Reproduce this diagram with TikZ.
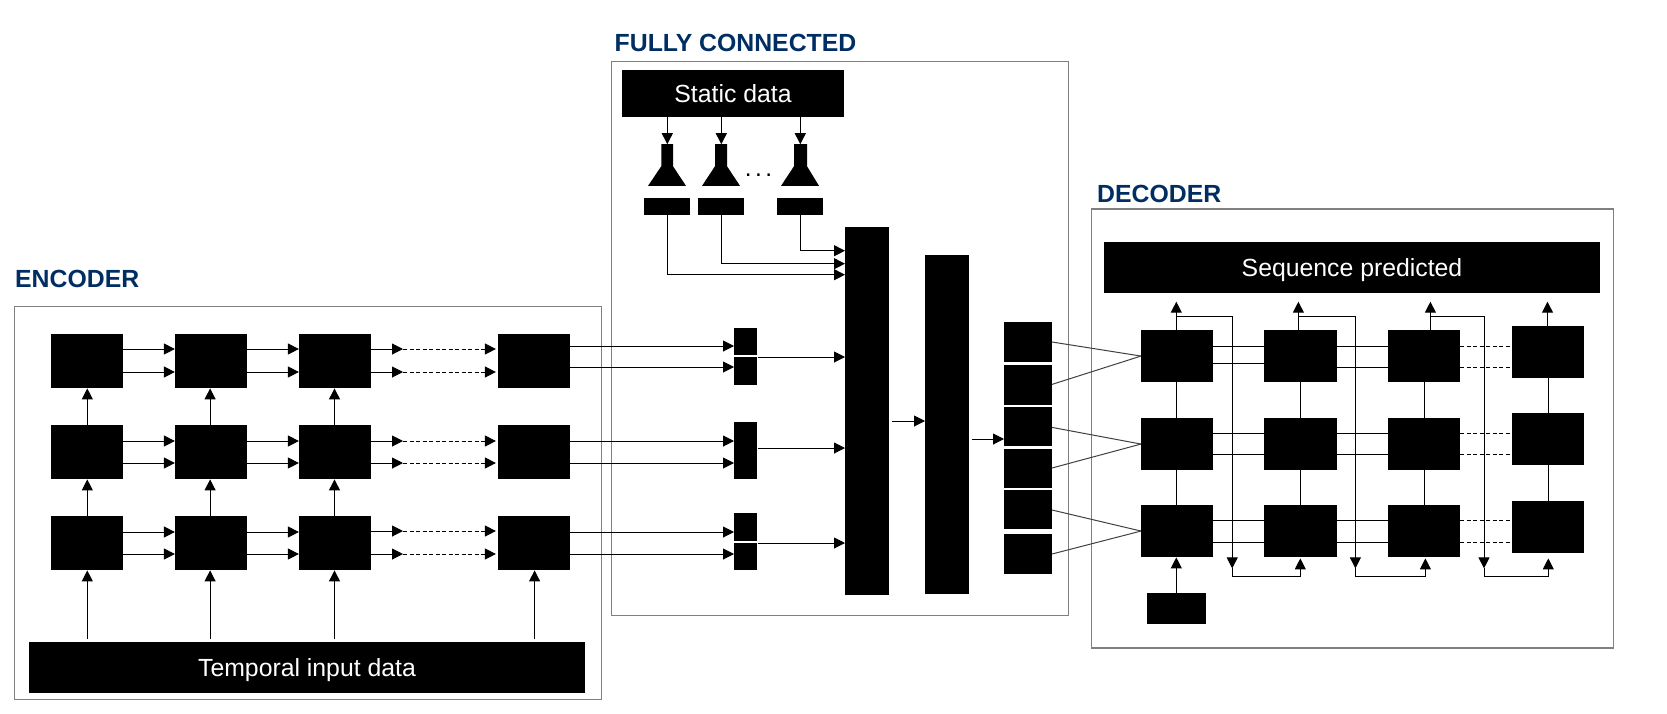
\documentclass[tikz,border=0pt]{standalone}
\usepackage{fontspec}
\setmainfont{Liberation Sans}
\usetikzlibrary{arrows.meta,calc}
\definecolor{headblue}{HTML}{002D62}
\definecolor{framegray}{HTML}{808080}
\definecolor{linkgray}{HTML}{404040}
\tikzset{
  blk/.style={fill=black,draw=none,inner sep=0pt,outer sep=0pt,text=white,align=center,font=\fontsize{24.8}{28}\selectfont},
  frame/.style={draw=framegray,line width=1.1pt,fill=none,inner sep=0pt,outer sep=0pt},
  heading/.style={text=headblue,anchor=west,inner sep=0pt,font=\fontsize{24.8}{28}\selectfont\bfseries},
  ln/.style={draw=black,line width=1pt},
  arr/.style={ln,-{Triangle[length=11pt,width=11pt]}},
  arrdash/.style={arr,dash pattern=on 4pt off 2.5pt,shorten >=2pt},
  lndash/.style={ln,dash pattern=on 4pt off 2.5pt},
  link/.style={draw=linkgray,line width=1pt},
}
\newcommand{\blkbox}[6][]{%
  \pgfmathsetmacro{\cxx}{(#3+#5)/2}\pgfmathsetmacro{\cyy}{(#4+#6)/2}%
  \pgfmathsetmacro{\wdd}{#5-#3}\pgfmathsetmacro{\htt}{#6-#4}%
  \node[blk,minimum width=\wdd pt,minimum height=\htt pt] (#2) at (\cxx,\cyy) {#1};}
\newcommand{\frm}[5]{%
  \pgfmathsetmacro{\cxx}{(#2+#4)/2}\pgfmathsetmacro{\cyy}{(#3+#5)/2}%
  \pgfmathsetmacro{\wdd}{#4-#2}\pgfmathsetmacro{\htt}{#5-#3}%
  \node[frame,minimum width=\wdd pt,minimum height=\htt pt] (#1) at (\cxx,\cyy) {};}
\newcommand{\lbl}[1]{\raisebox{-8.9pt}[0pt][0pt]{#1}}
\begin{document}
\begin{tikzpicture}[x=1pt,y=-1pt]
\useasboundingbox (0,-0.7) rectangle (1667,712.3);
% frames
\frm{encframe}{14.8}{306}{601.7}{699}
\frm{fcframe}{611.7}{61}{1068.3}{615}
\frm{decframe}{1091.3}{208.3}{1613.7}{647.3}
\node[heading] (enchead) at (15,278.4) {ENCODER};
\node[heading] (fchead) at (614.5,42.7) {FULLY CONNECTED};
\node[heading] (dechead) at (1097,193.5) {DECODER};
% encoder
\blkbox[\lbl{Temporal input data}]{tid}{29}{641}{585}{692.7}
\foreach \r/\ya/\yb in {1/333/387.7,2/424/478.7,3/515/569.7}{
  \blkbox{e\r1}{50.9}{\ya}{122.8}{\yb}
  \blkbox{e\r2}{174.9}{\ya}{246.8}{\yb}
  \blkbox{e\r3}{298.9}{\ya}{371.2}{\yb}
  \blkbox{e\r4}{497.9}{\ya}{570.2}{\yb}
}
\foreach \r/\ya/\yb/\yc in {1/348.3/371.3/348.3,2/440.3/462.3/440.3,3/531.3/553.3/530.3}{
  \draw[arr] (e\r1.east |- 0,\ya) -- (e\r2.west |- 0,\ya);
  \draw[arr] (e\r1.east |- 0,\yb) -- (e\r2.west |- 0,\yb);
  \draw[arr] (e\r2.east |- 0,\ya) -- (e\r3.west |- 0,\ya);
  \draw[arr] (e\r2.east |- 0,\yb) -- (e\r3.west |- 0,\yb);
  \coordinate (m\r a) at (403,\yc);
  \coordinate (m\r b) at (403,\yb);
  \draw[arr] (e\r3.east |- m\r a) -- (m\r a);
  \draw[arr] (e\r3.east |- m\r b) -- (m\r b);
  \draw[arrdash] (m\r a) -- (e\r4.west |- m\r a);
  \draw[arrdash] (m\r b) -- (e\r4.west |- m\r b);
}
\foreach \x/\c in {87.3/1,210.1/2,334.5/3,534.6/4}{
  \coordinate (vx\c) at (\x,0);
  \coordinate (tidtop\c) at (\x,638.3);
  \draw[arr] (tidtop\c) -- (vx\c |- e3\c.south);
}
\foreach \c in {1,2,3}{
  \draw[arr] (vx\c |- e3\c.north) -- (vx\c |- e2\c.south);
  \draw[arr] (vx\c |- e2\c.north) -- (vx\c |- e1\c.south);
}
% fully connected
\blkbox[\lbl{Static data}]{static}{622}{69.3}{844}{116.3}
\blkbox{bar1}{644}{197.3}{690}{214.3}
\blkbox{bar2}{698}{197.3}{744}{214.3}
\blkbox{bar3}{777}{197.3}{823}{214.3}
\foreach \c/\xa/\xb/\xc/\xd/\xt in {1/648/661.3/673/686/667.3,2/702/715/727/740/721.3,3/781/794/807/819/800.3}{
  \fill (\xb,143.5) -- (\xc,143.5) -- (\xc,165.5) -- (\xd,185.2) -- (\xa,185.2) -- (\xb,165.5) -- cycle;
  \coordinate (fun\c) at (\xt,143.5);
  \draw[arr] (fun\c |- static.south) -- (fun\c);
}
\node[inner sep=0pt,anchor=base,font=\fontsize{24.4}{28}\selectfont] (dots) at (758.5,176) {.\kern3.4pt.\kern3.4pt.};
\blkbox{fc1}{845}{226.5}{889}{594}
\blkbox{fc2}{925}{254.5}{969}{593}
\coordinate (t1) at (667.3,214.3);
\coordinate (t2) at (721.3,214.3);
\coordinate (t3) at (800.3,214.3);
\draw[arr] (t1) -- (t1 |- 0,274) -- (fc1.west |- 0,274);
\draw[arr] (t2) -- (t2 |- 0,263) -- (fc1.west |- 0,263);
\draw[arr] (t3) -- (t3 |- 0,250) -- (fc1.west |- 0,250);
% small stacks
\blkbox{s1a}{734}{327}{757}{354.7}
\blkbox{s1b}{734}{356}{757}{384.7}
\blkbox{s2}{734}{421}{757}{478.7}
\blkbox{s3a}{734}{512}{757}{540.7}
\blkbox{s3b}{734}{542}{757}{569.7}
\draw[arr] (e14.east |- 0,345.3) -- (s1a.west |- 0,345.3);
\draw[arr] (e14.east |- 0,366.3) -- (s1b.west |- 0,366.3);
\draw[arr] (e24.east |- 0,440.3) -- (s2.west |- 0,440.3);
\draw[arr] (e24.east |- 0,462.3) -- (s2.west |- 0,462.3);
\draw[arr] (e34.east |- 0,531.3) -- (s3a.west |- 0,531.3);
\draw[arr] (e34.east |- 0,553.3) -- (s3b.west |- 0,553.3);
\draw[arr] ($(s1a.east |- 0,356.3)+(0.7,0)$) -- (fc1.west |- 0,356.3);
\draw[arr] ($(s2.east |- 0,447.3)+(0.7,0)$) -- (fc1.west |- 0,447.3);
\draw[arr] ($(s3a.east |- 0,542.3)+(0.7,0)$) -- (fc1.west |- 0,542.3);
\draw[arr] ($(fc1.east |- 0,420.3)+(3.3,0)$) -- (fc2.west |- 0,420.3);
% output stack
\blkbox{o1}{1004}{321}{1052}{361.7}
\blkbox{o2}{1004}{364}{1052}{404.7}
\blkbox{o3}{1004}{406}{1052}{445.7}
\blkbox{o4}{1004}{448}{1052}{487.7}
\blkbox{o5}{1004}{489}{1052}{528.7}
\blkbox{o6}{1004}{533}{1052}{573.7}
\draw[arr] ($(fc2.east |- 0,438.3)+(2.7,0)$) -- (o3.west |- 0,438.3);
% decoder
\blkbox[\lbl{Sequence predicted}]{seq}{1104}{241}{1600}{292.7}
\foreach \r/\ya/\yb/\yc/\yd in {1/329/381.7/325/377.7,2/417/469.7/412/464.7,3/504/556.7/500/552.7}{
  \blkbox{d\r1}{1141}{\ya}{1212.6}{\yb}
  \blkbox{d\r2}{1264}{\ya}{1337}{\yb}
  \blkbox{d\r3}{1388}{\ya}{1460}{\yb}
  \blkbox{d\r4}{1512}{\yc}{1584}{\yd}
}
\blkbox{start}{1146.8}{592}{1206}{623.7}
\draw[link] (o1.east |- 0,341.3) -- (d11.west);
\draw[link] (o2.east |- 0,383.7) -- (d11.west);
\draw[link] (o3.east |- 0,426.7) -- (d21.west);
\draw[link] (o4.east |- 0,467.3) -- (d21.west);
\draw[link] (o5.east |- 0,509.3) -- (d31.west);
\draw[link] (o6.east |- 0,553.3) -- (d31.west);
\foreach \r/\ya/\yb/\yc in {1/345.3/362.3/366.3,2/432.3/453.3/453.3,3/519.3/541.3/541.3}{
  \draw[ln] (d\r1.east |- 0,\ya) -- (d\r2.west |- 0,\ya);
  \draw[ln] (d\r1.east |- 0,\yb) -- (d\r2.west |- 0,\yb);
  \draw[ln] (d\r2.east |- 0,\ya) -- (d\r3.west |- 0,\ya);
  \draw[ln] (d\r2.east |- 0,\yc) -- (d\r3.west |- 0,\yc);
  \draw[lndash] (d\r3.east |- 0,\ya) -- (d\r4.west |- 0,\ya);
  \draw[lndash] (d\r3.east |- 0,\yc) -- (d\r4.west |- 0,\yc);
}
\foreach \c in {1,2,3,4}{
  \draw[ln] (d1\c.south) -- (d2\c.north);
  \draw[ln] (d2\c.south) -- (d3\c.north);
}
% outputs and feedback
\coordinate (up1) at (1176.3,301);
\coordinate (up2) at (1298.4,301);
\coordinate (up3) at (1430.4,301);
\coordinate (up4) at (1547.5,301);
\draw[arr] (up1 |- d11.north) -- (up1);
\draw[arr] (up2 |- d12.north) -- (up2);
\draw[arr] (up3 |- d13.north) -- (up3);
\draw[arr] (up4 |- d14.north) -- (up4);
\draw[arr] (start.north -| up1) -- (up1 |- d31.south);
\foreach \u/\x/\c/\xx in {1/1232.2/2/1300.3,2/1355.4/3/1425.4,3/1484/4/1548.3}{
  \coordinate (fbtop\u) at (\x,315.7);
  \coordinate (fbtip\u) at (\x,567.7);
  \coordinate (fbbot\u) at (\x,575.3);
  \coordinate (inbot\u) at (\xx,575.3);
  \coordinate (intip\u) at (\xx,557.7);
  \draw[arr] (up\u |- fbtop\u) -- (fbtop\u) -- (fbtip\u);
  \draw[arr] (fbtip\u) -- (fbbot\u) -- (inbot\u) -- (intip\u);
}
\end{tikzpicture}
\end{document}
